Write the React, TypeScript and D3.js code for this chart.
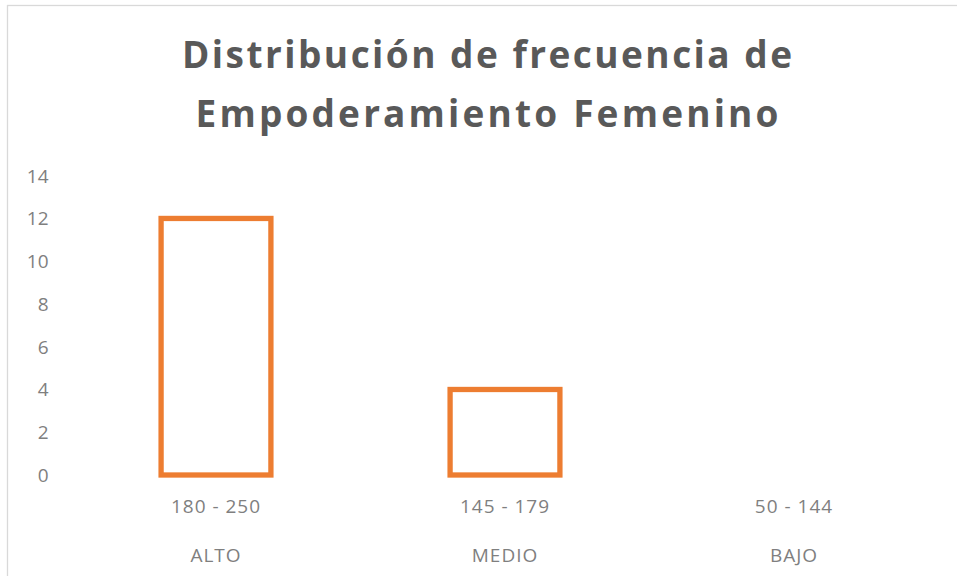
import React from 'react';
import * as d3 from 'd3';

const categories: string[] = ['180 - 250', '145 - 179', '50 - 144'];
const levels: string[] = ['ALTO', 'MEDIO', 'BAJO'];
const frequencies: number[] = [12, 4, 0];
const yTicks: number[] = [0, 2, 4, 6, 8, 10, 12, 14];
const titleLines: string[] = ['Distribución de frecuencia de', 'Empoderamiento Femenino'];

const W = 957;
const H = 576;

const App: React.FC = () => {
  const x = d3.scaleBand<string>().domain(categories).range([71.5, 938.5]).paddingInner(0.62).paddingOuter(0.31);
  const y = d3.scaleLinear().domain([0, 14]).range([475, 175.7]);

  const font = '"Open Sans", sans-serif';
  const labelColor = '#7f7f7f';

  return (
    <div style={{ position: 'absolute', left: 0, top: 0 }}>
      <svg width={W} height={H} style={{ display: 'block', background: '#fff' }}>
        {/* chart area border */}
        <rect x={7.5} y={5.5} width={W + 10} height={H + 10} fill="#fff" stroke="#d9d9d9" strokeWidth={1.3} />

        {titleLines.map((t, i) => (
          <text
            key={t}
            x={487}
            y={68 + i * 58.5}
            textAnchor="middle"
            fontFamily={font}
            fontWeight="bold"
            fontSize={37}
            fill="#595959"
            textLength={i === 0 ? 610 : 583}
            lengthAdjust="spacing"
          >
            {t}
          </text>
        ))}

        {yTicks.map((t) => (
          <text key={t} x={48.5} y={y(t) + 7} textAnchor="end" fontFamily={font} fontSize={19} fill={labelColor}>
            {t}
          </text>
        ))}

        {categories.map((c, i) => {
          const v = frequencies[i];
          const bx = x(c) as number;
          const bw = x.bandwidth();
          return (
            <g key={c}>
              {v > 0 && (
                <rect
                  x={bx}
                  y={y(v)}
                  width={bw}
                  height={y(0) - y(v)}
                  fill="#fff"
                  stroke="#ED7D31"
                  strokeWidth={5.3}
                />
              )}
              <text
                x={bx + bw / 2}
                y={513}
                textAnchor="middle"
                fontFamily={font}
                fontSize={19}
                letterSpacing={1}
                fill={labelColor}
              >
                {c}
              </text>
              <text
                x={bx + bw / 2}
                y={562}
                textAnchor="middle"
                fontFamily={font}
                fontSize={19}
                letterSpacing={1}
                fill={labelColor}
              >
                {levels[i]}
              </text>
            </g>
          );
        })}
      </svg>
    </div>
  );
};

export default App;
